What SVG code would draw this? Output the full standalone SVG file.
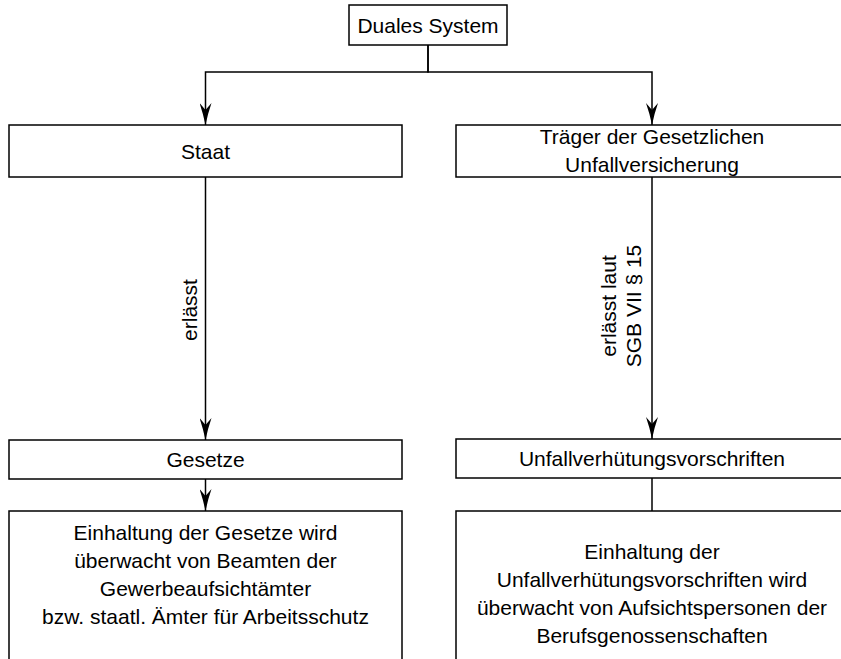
<svg xmlns="http://www.w3.org/2000/svg" width="841" height="659" viewBox="0 0 841 659">
<defs>
<marker id="arr" viewBox="0 0 22 12" refX="22" refY="6" markerWidth="22" markerHeight="12" markerUnits="userSpaceOnUse" orient="auto">
<path d="M22,6 Q10,3.5 0,0 L7,6 L0,12 Q10,8.5 22,6 Z" fill="#000"/>
</marker>
</defs>
<style>
rect{fill:#fff;stroke:#000;stroke-width:1.5}
text{font-family:"Liberation Sans",Arial,sans-serif;font-size:21px;fill:#000;text-anchor:middle}
.c{fill:none;stroke:#000;stroke-width:1.5}
</style>
<rect x="0" y="0" width="841" height="659" style="fill:#fff;stroke:none"/>
<g id="connectors">
<path class="c" d="M428,45 V72 H205.5 V125" marker-end="url(#arr)"/>
<path class="c" d="M428,45 V72 H652 V125" marker-end="url(#arr)"/>
<path class="c" d="M205.5,177 V440" marker-end="url(#arr)"/>
<path class="c" d="M652,177 V439" marker-end="url(#arr)"/>
<path class="c" d="M205.5,479 V511" marker-end="url(#arr)"/>
<path class="c" d="M652,478 V511"/>
<text transform="translate(197,310) rotate(-90)">erlässt</text>
<text transform="translate(616,306) rotate(-90)">erlässt laut</text>
<text transform="translate(641,306) rotate(-90)">SGB VII § 15</text>
</g>
<g id="duales">
<rect x="349" y="5" width="158" height="40"/>
<text x="428" y="32.5">Duales System</text>
</g>
<g id="staat">
<rect x="9" y="125" width="393" height="52"/>
<text x="205.5" y="158.5">Staat</text>
</g>
<g id="traeger">
<rect x="456" y="125" width="392" height="52"/>
<text x="652" y="144">Träger der Gesetzlichen</text>
<text x="652" y="172">Unfallversicherung</text>
</g>
<g id="gesetze">
<rect x="9" y="440" width="393" height="39"/>
<text x="205.5" y="467">Gesetze</text>
</g>
<g id="uvv">
<rect x="456" y="439" width="392" height="39"/>
<text x="652" y="466">Unfallverhütungsvorschriften</text>
</g>
<g id="ueberwachung_staat">
<rect x="9" y="511" width="393" height="170"/>
<text x="205.5" y="540">Einhaltung der Gesetze wird</text>
<text x="205.5" y="568">überwacht von Beamten der</text>
<text x="205.5" y="596">Gewerbeaufsichtämter</text>
<text x="205.5" y="624">bzw. staatl. Ämter für Arbeitsschutz</text>
</g>
<g id="ueberwachung_uv">
<rect x="456" y="511" width="392" height="170"/>
<text x="652" y="559">Einhaltung der</text>
<text x="652" y="587">Unfallverhütungsvorschriften wird</text>
<text x="652" y="615">überwacht von Aufsichtspersonen der</text>
<text x="652" y="643">Berufsgenossenschaften</text>
</g>
</svg>
